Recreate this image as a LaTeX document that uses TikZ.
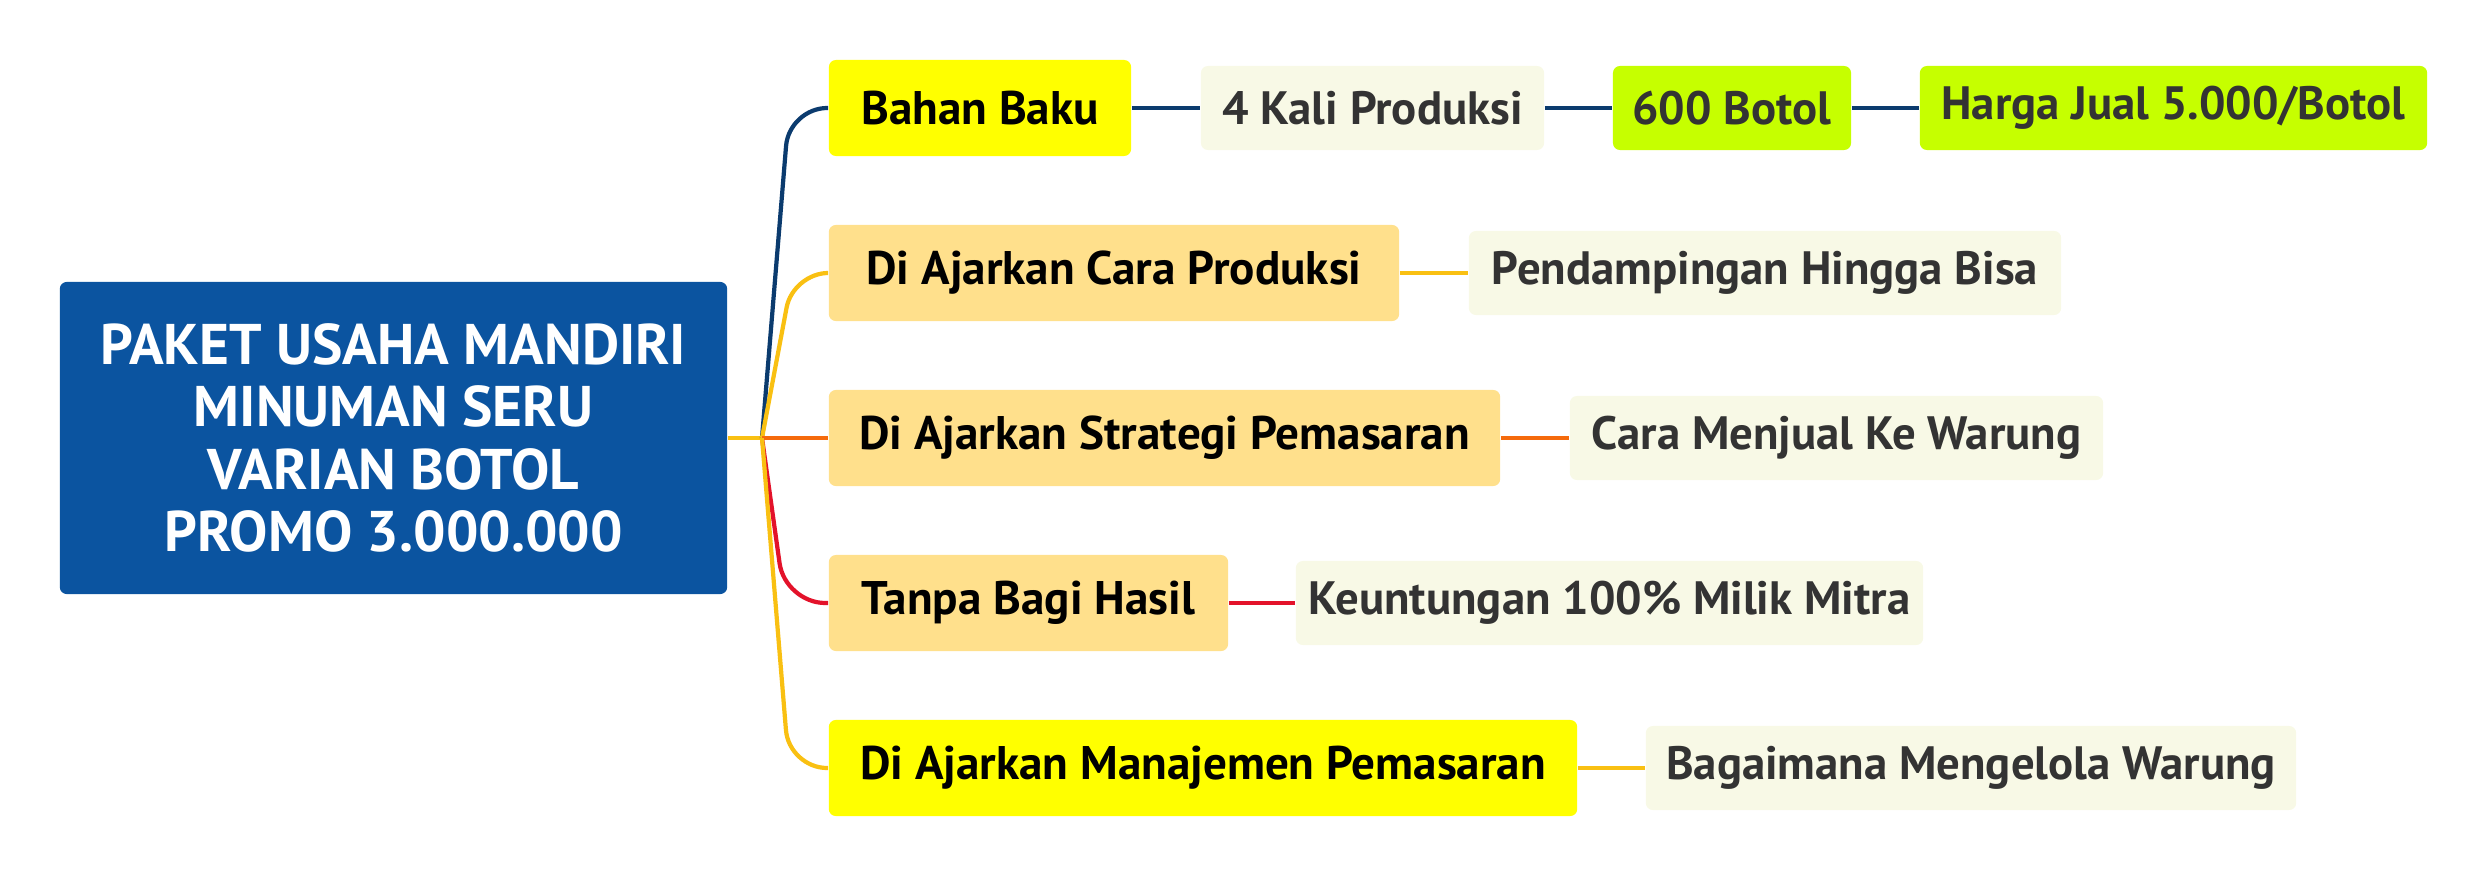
\documentclass[tikz,border=0pt]{standalone}
\usepackage{fontspec}
\setmainfont{PT Sans}
\usetikzlibrary{positioning}
\tikzset{
  box/.style={rounded corners=0.07cm, inner sep=0pt, align=center},
  rootbox/.style={box, fill=rootblue, text=white,
    font=\bfseries\fontsize{16.3}{17.7}\selectfont},
  topic/.style={box, minimum height=0.96cm, text=black,
    font=\bfseries\fontsize{13.4}{16}\selectfont},
  subtopic/.style={box, minimum height=0.84cm, fill=cream, text=darktext,
    font=\bfseries\fontsize{13.3}{16}\selectfont},
  link/.style={line width=1.2pt}
}
\begin{document}
\begin{tikzpicture}[x=0.01cm, y=-0.01cm]
\definecolor{rootblue}{HTML}{0B54A0}
\definecolor{brightyellow}{HTML}{FFFF00}
\definecolor{paleorange}{HTML}{FFE08C}
\definecolor{cream}{HTML}{F8F9E6}
\definecolor{lime}{HTML}{C6FF00}
\definecolor{darktext}{HTML}{333333}
\definecolor{navy}{HTML}{0B3B6E}
\definecolor{gold}{HTML}{F9C012}
\definecolor{tangerine}{HTML}{F56A0C}
\definecolor{crimson}{HTML}{E3122A}
\useasboundingbox (0,0) rectangle (2488,876);

\node[rootbox, minimum width=6.67cm, minimum height=3.12cm] (root) at (393.5,438)
  {PAKET USAHA MANDIRI\\MINUMAN SERU\\VARIAN BOTOL\\PROMO 3.000.000};

% main topics
\node[topic, fill=brightyellow, minimum width=3.02cm] (bahan) at (980,108) {Bahan Baku};
\node[topic, fill=paleorange, minimum width=5.70cm] (cara) at (1114,273) {Di Ajarkan Cara Produksi};
\node[topic, fill=paleorange, minimum width=6.71cm] (strategi) at (1164.5,438) {Di Ajarkan Strategi Pemasaran};
\node[topic, fill=paleorange, minimum width=3.99cm] (tanpa) at (1028.5,603) {Tanpa Bagi Hasil};
\node[topic, fill=brightyellow, minimum width=7.48cm] (manajemen) at (1203,768) {Di Ajarkan Manajemen Pemasaran};

% sub topics
\node[subtopic, minimum width=3.43cm] (kali) at (1372.5,108) {4 Kali Produksi};
\node[subtopic, fill=lime, minimum width=2.38cm] (botol) at (1732,108) {600 Botol};
\node[subtopic, fill=lime, minimum width=5.07cm] (harga) at (2173.5,108) {Harga Jual 5.000/Botol};
\node[subtopic, minimum width=5.92cm] (dampingan) at (1765,273) {Pendampingan Hingga Bisa};
\node[subtopic, minimum width=5.33cm] (menjual) at (1836.5,438) {Cara Menjual Ke Warung};
\node[subtopic, minimum width=6.27cm] (untung) at (1609.5,603) {Keuntungan 100\% Milik Mitra};
\node[subtopic, minimum width=6.50cm] (kelola) at (1971,768) {Bagaimana Mengelola Warung};

\coordinate (hub) at (762,438);
\draw[link, gold] (root.east) -- (hub);

\draw[link, navy, rounded corners=0.38cm]
  (hub) -- ([xshift=-0.39cm]bahan.west) -- (bahan.west);
\draw[link, gold, rounded corners=0.35cm]
  (hub) -- ([xshift=-0.35cm]cara.west) -- (cara.west);
\draw[link, tangerine] (hub) -- (strategi.west);
\draw[link, crimson, rounded corners=0.4cm]
  (hub) -- ([xshift=-0.43cm]tanpa.west) -- (tanpa.west);
\draw[link, gold, rounded corners=0.38cm]
  (hub) -- ([xshift=-0.39cm]manajemen.west) -- (manajemen.west);

\draw[link, navy] (bahan) -- (kali);
\draw[link, navy] (kali) -- (botol);
\draw[link, navy] (botol) -- (harga);
\draw[link, gold] (cara) -- (dampingan);
\draw[link, tangerine] (strategi) -- (menjual);
\draw[link, crimson] (tanpa) -- (untung);
\draw[link, gold] (manajemen) -- (kelola);

\end{tikzpicture}
\end{document}
